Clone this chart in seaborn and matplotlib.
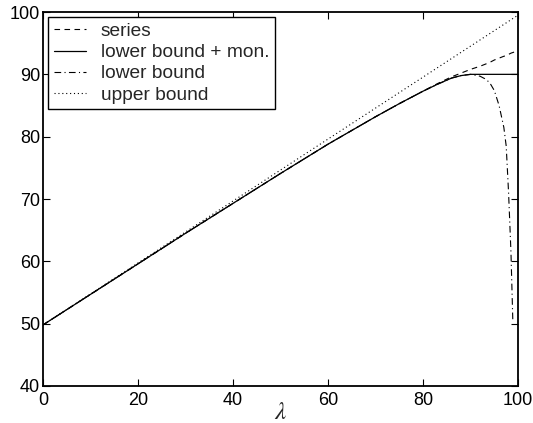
import numpy as np
import pandas as pd
import seaborn as sns
import matplotlib.pyplot as plt

# values
lam_upper = [0, 100]
upper_bound = [49.8, 99.5]

lam = [0, 10, 20, 30, 40, 50, 60, 65, 70, 75, 80, 83, 86, 88, 90, 92, 93, 94, 95, 96, 97, 97.5, 98, 98.5, 98.9]
lower_mon = [49.8, 54.7, 59.6, 64.5, 69.3, 74.1, 78.8, 81.0, 83.2, 85.3, 87.3, 88.4, 89.4, 89.8, 90.0, 90.0, 90.0, 90.0, 90.0, 90.0, 90.0, 90.0, 90.0, 90.0, 90.0]
series = [49.8, 54.7, 59.6, 64.5, 69.3, 74.1, 78.8, 81.0, 83.2, 85.3, 87.3, 88.5, 89.6, 90.2, 90.8, 91.3, 91.6, 91.9, 92.3, 92.6, 92.9, 93.0, 93.2, 93.4, 93.5]
lower = [49.8, 54.7, 59.6, 64.5, 69.3, 74.1, 78.8, 81.0, 83.2, 85.3, 87.3, 88.4, 89.4, 89.8, 90.0, 89.7, 89.3, 88.7, 87.4, 85.0, 81.5, 78.5, 71.0, 61.5, 50.3]
lam_end = 100

sns.set_style("ticks")
plt.rcParams['font.family'] = ['Liberation Sans', 'DejaVu Sans']
plt.rcParams['mathtext.fontset'] = 'stix'

fig = plt.figure(figsize=(5.33, 4.23), dpi=100)
ax = fig.add_axes([0.0807, 0.0875, 0.8913, 0.8841])

# series and lower bound + mon. extend to lambda = 100
lam_full = lam + [lam_end]
df = pd.DataFrame({'lam': lam_full,
                   'series': series + [93.8],
                   'lower_mon': lower_mon + [90.0]})
low = pd.DataFrame({'lam': lam, 'lower': lower})
up = pd.DataFrame({'lam': lam_upper, 'upper': upper_bound})

sns.lineplot(data=df, x='lam', y='series', ax=ax, color='black', lw=0.8,
             linestyle=(0, (5, 4)), label='series')
sns.lineplot(data=df, x='lam', y='lower_mon', ax=ax, color='black', lw=0.9,
             label='lower bound + mon.')
sns.lineplot(data=low, x='lam', y='lower', ax=ax, color='black', lw=0.8,
             linestyle=(0, (6, 3, 1, 3)), label='lower bound')
sns.lineplot(data=up, x='lam', y='upper', ax=ax, color='black', lw=0.8,
             linestyle=(0, (1, 2.5)), label='upper bound')

ax.set_xlim(0, 100)
ax.set_ylim(40, 100)
ax.set_xticks([0, 20, 40, 60, 80, 100])
ax.set_yticks([40, 50, 60, 70, 80, 90, 100])
ax.tick_params(direction='in', top=True, right=True, length=5, width=0.8,
               labelsize=13, pad=2, colors='black')
ax.tick_params(axis='x', pad=4)
for s in ax.spines.values():
    s.set_visible(True)
    s.set_linewidth(1.3)
    s.set_color('black')

ax.set_xlabel(r'$\lambda$', fontsize=18, labelpad=-6)
ax.set_ylabel('')

leg = ax.legend(loc='upper left', fontsize=13.8, frameon=True, fancybox=False,
                edgecolor='black', framealpha=1, handlelength=1.7,
                labelspacing=0.2, borderaxespad=0.25, borderpad=0.3,
                handletextpad=0.75)
leg.get_frame().set_linewidth(1.0)

fig.savefig('out.png', dpi=100)
